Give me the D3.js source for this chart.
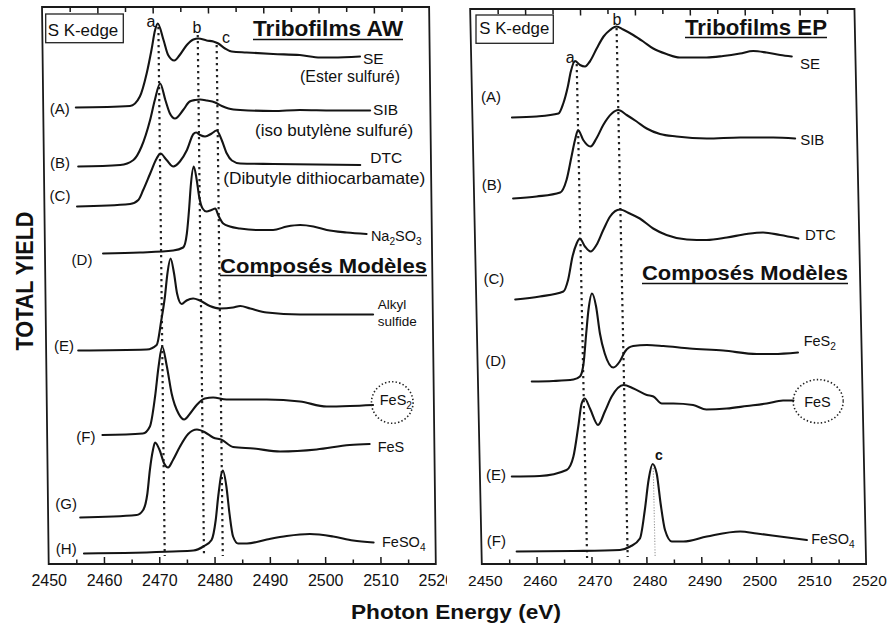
<!DOCTYPE html>
<html>
<head>
<meta charset="utf-8">
<script src="https://cdn.jsdelivr.net/npm/d3@7"></script>
<style>
  body { margin: 0; background: #fff; }
  svg { display: block; }
  text { font-family: "Liberation Sans", Arial, sans-serif; fill: #111; }
</style>
</head>
<body>
<svg id="chart" width="887" height="625"></svg>
<script>
// ---------------------------------------------------------------
// S K-edge XANES spectra (total yield, arbitrary units, stacked)
// each spectrum: [photon energy (eV), stacked yield]
// ---------------------------------------------------------------
const energyMajor = [2450, 2460, 2470, 2480, 2490, 2500, 2510, 2520];
const energyMinor = [2455, 2465, 2475, 2485, 2495, 2505, 2515];

// --- Tribofilms AW + model compounds ---
const awSE = [[2455.9,91.3],[2465.7,91.6],[2467.5,93.5],[2468.8,98.2],[2469.7,102.8],[2470.4,106.8],[2470.9,108.1],[2471.9,104.8],[2472.7,101.8],[2473.8,100.7],[2474.8,101.8],[2476.1,103.8],[2477.3,104.9],[2478.2,105.1],[2479.7,104.7],[2480.9,104.5],[2481.8,104.1],[2483.0,103.1],[2484.2,102.5],[2486.9,102.3],[2491.7,102.0],[2496.5,101.8],[2500.2,101.3],[2502.5,101.3],[2507.4,101.5]];
const awSIB = [[2456.2,79.5],[2463.8,79.8],[2466.2,80.8],[2467.7,83.5],[2469.3,88.8],[2470.2,92.8],[2471.2,96.1],[2472.1,92.8],[2472.9,90.1],[2473.8,89.1],[2475.3,90.8],[2476.5,92.5],[2477.5,92.8],[2478.4,92.9],[2479.6,92.7],[2481.1,92.3],[2482.3,91.6],[2483.5,91.1],[2485.6,90.8],[2491.6,90.6],[2496.4,90.8],[2502.4,90.7],[2509.1,90.7]];
const awDTC = [[2455.9,71.5],[2465.5,72.0],[2467.0,72.8],[2467.9,74.8],[2469.2,78.1],[2470.4,81.1],[2471.1,82.1],[2472.2,80.8],[2473.4,79.5],[2474.6,80.5],[2475.9,82.8],[2477.1,86.0],[2477.6,86.3],[2478.3,85.8],[2479.2,85.5],[2480.4,86.1],[2481.3,86.7],[2482.2,84.8],[2483.1,82.1],[2484.0,80.7],[2485.5,80.1],[2491.5,80.0],[2507.2,79.8]];
const awNa2SO3 = [[2460.5,62.1],[2467.2,62.3],[2473.2,62.7],[2475.0,63.3],[2475.7,66.1],[2476.2,71.5],[2476.5,75.5],[2477.1,79.5],[2477.6,76.8],[2478.0,73.5],[2478.6,71.1],[2479.3,70.5],[2480.2,70.8],[2480.9,71.1],[2481.4,69.8],[2482.3,68.1],[2483.5,67.5],[2485.3,67.1],[2488.3,66.8],[2491.3,66.8],[2493.8,67.5],[2496.2,67.8],[2498.6,67.5],[2501.0,66.8],[2504.6,66.3],[2508.2,66.0]];
const awAlkyl = [[2455.8,42.7],[2468.2,42.9],[2470.0,43.8],[2470.9,48.8],[2471.6,53.5],[2472.1,58.1],[2472.7,61.1],[2473.3,58.1],[2473.8,54.1],[2474.6,52.0],[2475.5,52.7],[2476.7,53.1],[2477.9,52.7],[2479.7,51.6],[2481.5,51.1],[2483.9,51.3],[2485.2,51.6],[2487.0,51.1],[2490.0,50.3],[2496.0,49.9],[2502.0,49.9],[2509.2,49.9]];
const awFeS2 = [[2460.0,25.8],[2467.3,26.1],[2468.6,27.5],[2469.6,33.5],[2470.3,39.5],[2471.0,43.5],[2471.8,39.5],[2472.6,34.1],[2473.8,30.1],[2474.8,28.9],[2475.9,30.1],[2477.1,31.8],[2478.6,33.1],[2480.1,33.3],[2482.5,32.9],[2485.0,32.9],[2489.8,32.9],[2495.8,32.5],[2500.6,31.5],[2504.8,31.6],[2509.0,31.8]];
const awFeS = [[2455.8,9.3],[2466.0,9.8],[2467.2,10.8],[2468.0,14.1],[2468.5,18.8],[2469.1,22.8],[2469.5,24.3],[2470.3,22.8],[2471.1,20.1],[2471.8,19.3],[2472.7,20.8],[2474.0,23.5],[2475.5,26.0],[2477.1,26.9],[2478.6,26.3],[2480.0,25.3],[2481.6,24.8],[2483.6,23.4],[2487.3,23.1],[2492.1,22.5],[2498.7,22.9],[2504.7,23.8],[2508.3,24.0]];
const awFeSO4 = [[2456.4,2.1],[2472.5,2.5],[2476.2,2.7],[2478.0,3.5],[2479.5,4.8],[2480.3,8.8],[2480.8,13.5],[2481.7,18.7],[2482.3,15.5],[2482.8,10.1],[2483.4,5.5],[2484.3,4.1],[2485.9,4.1],[2489.5,4.9],[2493.1,5.6],[2497.3,6.0],[2501.5,5.5],[2505.1,4.7],[2508.8,4.3]];

const awTags  = ["(A)", "(B)", "(C)", "(D)", "(E)", "(F)", "(G)", "(H)"];
const awNames = ["SE", "SIB", "DTC", "Na2SO3", "Alkyl|sulfide", "FeS2", "FeS", "FeSO4"];
const awNotes = ["(Ester sulfuré)", "(iso butylène sulfuré)", "(Dibutyle dithiocarbamate)"];
const awPeakLetters = ["a", "b", "c"];
const awPeakEnergy  = [2471.0, 2478.1, 2481.5];

// --- Tribofilms EP + model compounds ---
const epSE = [[2457.2,89.3],[2461.7,89.5],[2465.7,90.1],[2466.6,92.1],[2467.5,95.5],[2468.1,98.5],[2468.9,100.6],[2469.8,99.8],[2470.7,99.5],[2471.6,100.5],[2472.9,103.1],[2474.2,105.5],[2475.4,106.8],[2476.6,107.5],[2477.8,106.9],[2479.6,105.8],[2481.4,104.5],[2483.2,103.1],[2485.6,102.0],[2488.0,101.3],[2492.9,101.3],[2495.9,101.6],[2499.0,102.1],[2501.4,102.6],[2503.8,102.3],[2506.3,101.8],[2508.4,101.5]];
const epSIB = [[2457.1,73.1],[2461.4,73.5],[2465.7,74.3],[2466.9,76.8],[2467.9,81.5],[2468.6,84.8],[2469.2,86.8],[2470.1,84.8],[2471.4,83.5],[2472.5,85.1],[2473.8,87.8],[2475.4,90.1],[2476.6,90.8],[2478.1,89.8],[2479.9,88.5],[2481.7,87.1],[2484.1,86.0],[2487.1,85.5],[2492.6,85.1],[2498.7,85.3],[2504.7,85.3],[2508.7,85.1]];
const epDTC = [[2457.1,52.9],[2461.6,53.5],[2465.9,54.5],[2466.8,56.8],[2467.7,61.5],[2468.5,64.1],[2469.1,65.1],[2470.0,63.5],[2471.0,62.5],[2472.1,63.8],[2473.4,66.8],[2474.7,69.5],[2476.5,70.9],[2478.3,70.1],[2480.1,69.1],[2482.5,67.1],[2484.9,65.8],[2488.6,64.9],[2492.2,64.8],[2495.9,65.3],[2499.5,66.0],[2502.5,66.3],[2505.6,65.8],[2508.9,65.1]];
const epFeS2 = [[2459.8,36.5],[2463.7,36.6],[2467.4,36.9],[2468.6,37.5],[2469.3,40.1],[2469.9,46.1],[2470.4,50.8],[2471.1,54.1],[2471.8,51.5],[2472.4,46.1],[2473.2,42.1],[2474.7,39.3],[2475.9,40.5],[2476.9,42.5],[2478.4,43.6],[2480.9,43.8],[2483.9,43.6],[2488.7,43.1],[2494.8,42.7],[2500.9,42.0],[2503.9,42.0],[2508.4,42.3]];
const epFeS = [[2455.8,17.5],[2460.9,17.6],[2465.8,18.8],[2467.1,21.5],[2468.1,27.5],[2468.8,32.1],[2469.4,33.1],[2470.3,31.1],[2471.7,27.8],[2473.0,30.5],[2474.3,33.5],[2476.5,35.8],[2478.3,35.1],[2480.7,33.8],[2481.9,33.5],[2483.4,32.1],[2485.5,32.1],[2489.1,31.8],[2491.5,30.9],[2495.2,31.1],[2498.9,31.6],[2502.5,32.1],[2505.5,32.7],[2507.4,32.7]];
const epFeSO4 = [[2456.4,2.5],[2466.7,2.6],[2475.2,2.8],[2477.1,3.5],[2478.9,5.1],[2479.9,10.8],[2480.7,16.8],[2481.5,20.0],[2482.2,18.1],[2482.8,12.1],[2483.5,6.8],[2484.7,4.5],[2486.8,4.5],[2491.1,5.5],[2497.2,6.5],[2500.2,6.1],[2504.4,5.5],[2509.3,4.8]];

const epTags  = ["(A)", "(B)", "(C)", "(D)", "(E)", "(F)"];
const epNames = ["SE", "SIB", "DTC", "FeS2", "FeS", "FeSO4"];
const epPeakLetters = ["a", "b", "c"];
const epPeakEnergy  = [2469.2, 2476.6, 2481.6];

// ---------------------------------------------------------------
// layout
// ---------------------------------------------------------------
const svg = d3.select("#chart");
const BOTTOM = 564;          // bottom edge of both frames
const FONT = '"Liberation Sans", Arial, sans-serif';

const panels = [
  {
    spectra: [awSE, awSIB, awDTC, awNa2SO3, awAlkyl, awFeS2, awFeS, awFeSO4],
    tags: awTags, names: awNames,
    peakLetters: awPeakLetters, peakEnergy: awPeakEnergy,
    xRange: [48.7, 435.8], slant: 0.012, yMax: 111.4, labelShift: 0, labelSize: 16, clipRight: 447,
    tagOff: [[-6,6.3],[-8.3,1.3],[-6.6,-5.2],[-10.6,11.7],[-4.3,0.8],[-7,7],[-3.3,-8.3],[-7.3,0.2]],
    nameOff: [[3,7.3],[3,4.3],[10,-1.7],[4.3,6.7],[4.7,-6],[6.7,0],[8,7.7],[8.4,4]],
    nameSize: [15.5,15.5,15.5,14.5,13.5,14.5,14.5,14.5],
    notes: awNotes, noteOff: [[-60,25.3,100],[-115,25.3,158],[-137,19,202]],
    peakTop: [107.4, 105.8, 103.8], peakBottom: [1.6, 1.6, 1.6],
    peakStyle: ["dark", "dark", "dark"],
    letterOff: [[-7.4,-0.5],[-0.8,-1.7],[9.3,-2]], letterBold: [false,false,false], letterSize: [16,16,16],
    circle: {series: 5, dx: 19.2, dy: -2.5, rx: 20.8, ry: 20.8},
    box: [45.7, 14, 77.6, 28.7], boxText: [47.7, 36, 70.6],
    title: "Tribofilms AW", titlePos: [253, 36, 150, 39.5],
    models: [220, 272.5, 207, 275.5]
  },
  {
    spectra: [epSE, epSIB, epDTC, epFeS2, epFeS, epFeSO4],
    tags: epTags, names: epNames,
    peakLetters: epPeakLetters, peakEnergy: epPeakEnergy,
    xRange: [481.8, 866.1], slant: 0.021, yMax: 111.0, labelShift: 3, labelSize: 15.5, clipRight: 887,
    tagOff: [[-11,-15.8],[-11.3,-8.5],[-11,-15.8],[-25.7,-16],[-5.7,3.6],[-10.7,-5.5]],
    nameOff: [[8.3,12],[5,6.7],[6.7,1.3],[5.7,-6.9],[10.7,6.3],[4.3,3.5]],
    nameSize: [15,15,15,14.5,14.5,14.5],
    notes: [], noteOff: [],
    peakTop: [100, 107.2, 19.2], peakBottom: [1.2, 1.4, 1.4],
    peakStyle: ["dark", "dark", "light"],
    letterOff: [[-6.4,-1],[0.5,-3],[5.7,-8]], letterBold: [false,false,true], letterSize: [16,16,14],
    circle: {series: 4, dx: 24.7, dy: 0.8, rx: 25, ry: 21.7},
    box: [476, 15, 77.3, 28.3], boxText: [479.3, 33.5, 70],
    title: "Tribofilms EP", titlePos: [685, 34.5, 142, 37.5],
    models: [642, 280, 206, 283.5]
  }
];

// chemical formula: digits become subscripts
function formula(sel, str, fs) {
  const parts = str.match(/[0-9]+|[^0-9]+/g);
  let down = false;
  parts.forEach(p => {
    const t = sel.append("tspan").text(p);
    if (/^[0-9]+$/.test(p)) {
      t.attr("font-size", fs * 0.7).attr("dy", fs * 0.3);
      down = true;
    } else if (down) {
      t.attr("dy", -fs * 0.3);
      down = false;
    }
  });
}

panels.forEach((p, pi) => {
  const x = d3.scaleLinear().domain([2450, 2520]).range(p.xRange);
  const y = d3.scaleLinear().domain([0, p.yMax]).range([BOTTOM, BOTTOM - 5 * p.yMax]);
  const skewDeg = Math.atan(p.slant) * 180 / Math.PI;
  const place = (e, v) => [x(e) + (y(v) - BOTTOM) * p.slant, y(v)];

  const g = svg.append("g");
  const sk = g.append("g")
    .attr("transform", `translate(0,${BOTTOM}) skewX(${skewDeg}) translate(0,${-BOTTOM})`);

  // frame
  sk.append("rect")
    .attr("x", x(2450)).attr("y", y(p.yMax))
    .attr("width", x(2520) - x(2450)).attr("height", y(0) - y(p.yMax))
    .attr("fill", "none").attr("stroke", "#1a1a1a").attr("stroke-width", 1.8);

  // inward ticks, bottom and top
  const tickSets = [
    [d3.axisBottom(x).tickValues(energyMajor.slice(1, -1)).tickSize(-7), y(0)],
    [d3.axisBottom(x).tickValues(energyMinor).tickSize(-4.5), y(0)],
    [d3.axisTop(x).tickValues(energyMajor.slice(1, -1)).tickSize(-6.5), y(p.yMax)],
    [d3.axisTop(x).tickValues(energyMinor).tickSize(-5), y(p.yMax)]
  ];
  tickSets.forEach(([ax, yy]) => {
    const a = sk.append("g").attr("transform", `translate(0,${yy})`)
      .call(ax.tickSizeOuter(0).tickFormat(""));
    a.select(".domain").remove();
    a.selectAll(".tick line").attr("stroke", "#1a1a1a").attr("stroke-width", 1.5);
  });

  // dotted peak markers
  p.peakEnergy.forEach((e, i) => {
    const light = p.peakStyle[i] === "light";
    sk.append("line")
      .attr("x1", x(e)).attr("x2", x(e))
      .attr("y1", y(p.peakTop[i])).attr("y2", y(p.peakBottom[i]))
      .attr("stroke", light ? "#9a9a9a" : "#222")
      .attr("stroke-width", light ? 1.1 : 2.2)
      .attr("stroke-dasharray", light ? "1.2 1.6" : "2.2 3.8");
  });

  // spectra
  const line = d3.line().x(d => x(d[0])).y(d => y(d[1])).curve(d3.curveMonotoneX);
  sk.selectAll("path.spectrum").data(p.spectra).join("path")
    .attr("class", "spectrum")
    .attr("d", line)
    .attr("fill", "none").attr("stroke", "#141414")
    .attr("stroke-width", 2.1).attr("stroke-linejoin", "round").attr("stroke-linecap", "round");

  // ---------- text layer ----------
  const clipId = "clip" + pi;
  svg.append("defs").append("clipPath").attr("id", clipId)
    .append("rect").attr("x", 0).attr("y", 0).attr("width", p.clipRight).attr("height", 625);
  const tg = g.append("g");

  // energy tick labels
  const lab = tg.append("g").attr("clip-path", `url(#${clipId})`)
    .attr("transform", `translate(0,${BOTTOM})`)
    .call(d3.axisBottom(x).tickValues(energyMajor).tickSize(0).tickPadding(11).tickFormat(d3.format("d")));
  lab.select(".domain").remove();
  lab.selectAll("text").attr("font-family", FONT).attr("font-size", p.labelSize)
    .attr("fill", "#111").attr("dx", p.labelShift);

  // series tags (A), (B), ...
  p.spectra.forEach((s, i) => {
    const [sx, sy] = place(s[0][0], s[0][1]);
    tg.append("text").attr("x", sx + p.tagOff[i][0]).attr("y", sy + p.tagOff[i][1])
      .attr("text-anchor", "end").attr("font-size", 15).text(p.tags[i]);
  });

  // compound names at line ends
  p.spectra.forEach((s, i) => {
    const last = s[s.length - 1];
    const [ex, ey] = place(last[0], last[1]);
    const fs = p.nameSize[i];
    const lines = p.names[i].split("|");
    lines.forEach((ln, li) => {
      const t = tg.append("text")
        .attr("x", ex + p.nameOff[i][0])
        .attr("y", ey + p.nameOff[i][1] + li * 17.4)
        .attr("font-size", fs);
      formula(t, ln, fs);
    });
  });

  // full compound names under the tribofilm labels
  p.notes.forEach((n, i) => {
    const s = p.spectra[i], last = s[s.length - 1];
    const [ex, ey] = place(last[0], last[1]);
    tg.append("text").attr("x", ex + p.noteOff[i][0]).attr("y", ey + p.noteOff[i][1])
      .attr("font-size", 16.5).attr("textLength", p.noteOff[i][2])
      .attr("lengthAdjust", "spacingAndGlyphs").text(n);
  });

  // peak letters
  p.peakEnergy.forEach((e, i) => {
    const [lx, ly] = place(e, p.peakTop[i]);
    tg.append("text").attr("x", lx + p.letterOff[i][0]).attr("y", ly + p.letterOff[i][1])
      .attr("text-anchor", "middle").attr("font-size", p.letterSize[i])
      .attr("font-weight", p.letterBold[i] ? "bold" : "normal").text(p.peakLetters[i]);
  });

  // dotted ring around the reference compound
  {
    const s = p.spectra[p.circle.series], last = s[s.length - 1];
    const [ex, ey] = place(last[0], last[1]);
    tg.append("ellipse").attr("cx", ex + p.circle.dx).attr("cy", ey + p.circle.dy)
      .attr("rx", p.circle.rx).attr("ry", p.circle.ry)
      .attr("fill", "none").attr("stroke", "#222").attr("stroke-width", 1.6)
      .attr("stroke-dasharray", "1.4 2.2");
  }

  // "S K-edge" box
  tg.append("rect").attr("x", p.box[0]).attr("y", p.box[1])
    .attr("width", p.box[2]).attr("height", p.box[3])
    .attr("fill", "#fff").attr("stroke", "#222").attr("stroke-width", 1.3);
  tg.append("text").attr("x", p.boxText[0]).attr("y", p.boxText[1])
    .attr("font-size", 16.5).attr("textLength", p.boxText[2])
    .attr("lengthAdjust", "spacingAndGlyphs").text("S K-edge");

  // panel title and section heading, underlined
  const heading = (txt, x0, yb, w, yu, fs) => {
    tg.append("text").attr("x", x0).attr("y", yb).attr("font-size", fs).attr("font-weight", "bold")
      .attr("textLength", w).attr("lengthAdjust", "spacingAndGlyphs").text(txt);
    tg.append("line").attr("x1", x0).attr("x2", x0 + w).attr("y1", yu).attr("y2", yu)
      .attr("stroke", "#111").attr("stroke-width", 1.6);
  };
  heading(p.title, p.titlePos[0], p.titlePos[1], p.titlePos[2], p.titlePos[3], 22);
  heading("Composés Modèles", p.models[0], p.models[1], p.models[2], p.models[3], 21);
});

// axis titles
svg.append("text").attr("x", 351).attr("y", 619)
  .attr("font-size", 21).attr("font-weight", "bold")
  .attr("textLength", 210).attr("lengthAdjust", "spacingAndGlyphs")
  .text("Photon Energy (eV)");
svg.append("text")
  .attr("transform", "translate(33,281) rotate(-90)")
  .attr("text-anchor", "middle").attr("font-size", 24).attr("font-weight", "bold")
  .attr("textLength", 139).attr("lengthAdjust", "spacingAndGlyphs")
  .text("TOTAL YIELD");
</script>
</body>
</html>
